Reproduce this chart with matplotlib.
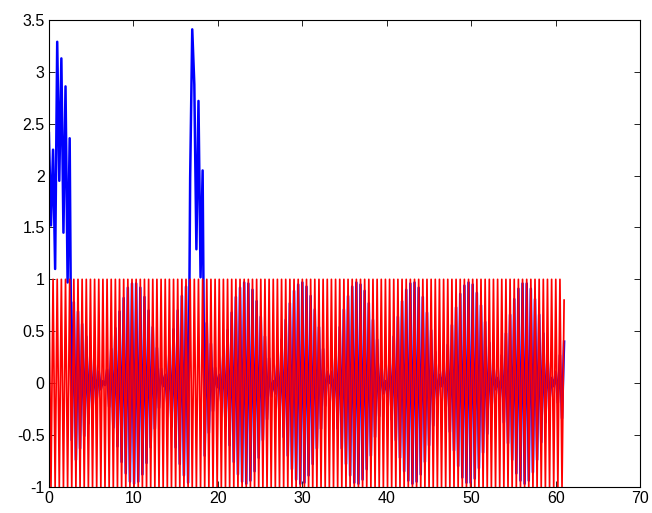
"""
Two sampled signals on one axes (MATLAB-style figure)
"""

import numpy as np
import matplotlib
matplotlib.use('Agg')
import matplotlib.pyplot as plt
from matplotlib.ticker import FormatStrFormatter

# sample grid
t_step = 0.2459
n_samples = 249

# red signal: full +1/-1 swings, last sample stops short
red = [
    1, -1, 1, -1, 1, -1, 1, -1, 1, -1, 1, -1, 1, -1, 1, -1, 1, -1, 1, -1,
    1, -1, 1, -1, 1, -1, 1, -1, 1, -1, 1, -1, 1, -1, 1, -1, 1, -1, 1, -1,
    1, -1, 1, -1, 1, -1, 1, -1, 1, -1, 1, -1, 1, -1, 1, -1, 1, -1, 1, -1,
    1, -1, 1, -1, 1, -1, 1, -1, 1, -1, 1, -1, 1, -1, 1, -1, 1, -1, 1, -1,
    1, -1, 1, -1, 1, -1, 1, -1, 1, -1, 1, -1, 1, -1, 1, -1, 1, -1, 1, -1,
    1, -1, 1, -1, 1, -1, 1, -1, 1, -1, 1, -1, 1, -1, 1, -1, 1, -1, 1, -1,
    1, -1, 1, -1, 1, -1, 1, -1, 1, -1, 1, -1, 1, -1, 1, -1, 1, -1, 1, -1,
    1, -1, 1, -1, 1, -1, 1, -1, 1, -1, 1, -1, 1, -1, 1, -1, 1, -1, 1, -1,
    1, -1, 1, -1, 1, -1, 1, -1, 1, -1, 1, -1, 1, -1, 1, -1, 1, -1, 1, -1,
    1, -1, 1, -1, 1, -1, 1, -1, 1, -1, 1, -1, 1, -1, 1, -1, 1, -1, 1, -1,
    1, -1, 1, -1, 1, -1, 1, -1, 1, -1, 1, -1, 1, -1, 1, -1, 1, -1, 1, -1,
    1, -1, 1, -1, 1, -1, 1, -1, 1, -1, 1, -1, 1, -1, 1, -1, 1, -1, 1, -1,
    1, -1, 1, -1, 1, -1, 1, -1, 0.8,
]

# blue signal, piece by piece (inside the red band it swings with the red)
blue_burst_1 = [2.41, 1.52, 2.25, 1.10, 3.29, 1.95, 3.13, 1.45, 2.86, 0.97, 2.36, -0.55]
blue_fade_1 = [0.78, -0.74, 0.69, -0.63, 0.57, -0.51, 0.45, -0.39, 0.33, -0.27,
               0.21, -0.16, 0.11, -0.06, 0.02]
blue_lobe_1 = [-0.02, 0.13, -0.23, 0.33, -0.43, 0.53, -0.61, 0.69, -0.76, 0.82,
               -0.87, 0.92, -0.95, 0.96, -0.97, 0.96, -0.95, 0.92, -0.88, 0.83,
               -0.77, 0.70, -0.62, 0.54, -0.44, 0.34, -0.24, 0.14, -0.03]
blue_rise_2 = [0.08, -0.20, 0.31, -0.42, 0.52, -0.62, 0.70, -0.78, 0.84, -0.89,
               0.93, -0.96]
blue_burst_2 = [1.98, 3.41, 2.88, 1.29, 2.72, 1.02, 2.05, -0.70]
blue_fade_2 = [0.58, -0.48, 0.38, -0.27, 0.15, -0.04]
blue_lobe_2 = [0.08, -0.19, 0.30, -0.41, 0.51, -0.60, 0.68, -0.76, 0.83, -0.88,
               0.92, -0.95, 0.97, -0.97, 0.96, -0.94, 0.90, -0.85, 0.79, -0.72,
               0.64, -0.55, 0.45, -0.35, 0.24, -0.13, 0.02]
blue_lobe_3 = [-0.10, 0.21, -0.32, 0.42, -0.52, 0.61, -0.70, 0.77, -0.83, 0.89,
               -0.93, 0.95, -0.97, 0.97, -0.96, 0.93, -0.89, 0.84, -0.78, 0.71,
               -0.63, 0.54, -0.44, 0.33, -0.22, 0.11, 0.0]
blue_lobe_4 = [0.11, -0.22, 0.33, -0.44, 0.54, -0.63, 0.71, -0.78, 0.84, -0.89,
               0.93, -0.96, 0.97, -0.97, 0.95, -0.93, 0.89, -0.83, 0.77, -0.70,
               0.61, -0.52, 0.42, -0.32, 0.21, -0.10]
blue_lobe_5 = [0.02, -0.13, 0.24, -0.35, 0.45, -0.55, 0.64, -0.72, 0.79, -0.85,
               0.90, -0.94, 0.96, -0.97, 0.97, -0.95, 0.92, -0.88, 0.83, -0.76,
               0.68, -0.60, 0.51, -0.41, 0.30, -0.19, 0.08]
blue_lobe_6 = [-0.03, 0.15, -0.26, 0.37, -0.47, 0.56, -0.65, 0.73, -0.80, 0.86,
               -0.91, 0.94, -0.96, 0.97, -0.96, 0.95, -0.92, 0.87, -0.82, 0.75,
               -0.67, 0.59, -0.49, 0.39, -0.29, 0.17, -0.06]
blue_lobe_7 = [0.05, -0.16, 0.27, -0.38, 0.48, -0.58, 0.66, -0.74, 0.81, -0.87,
               0.91, -0.94, 0.96, -0.97, 0.96, -0.94, 0.91, -0.86, 0.81, -0.74,
               0.66, -0.57, 0.48, -0.38, 0.27, -0.16, 0.05]
blue_tail = [-0.03, 0.11, -0.19, 0.27, -0.34, 0.40]

x_ticks = [0, 10, 20, 30, 40, 50, 60, 70]
y_ticks = [-1, -0.5, 0, 0.5, 1, 1.5, 2, 2.5, 3, 3.5]

blue = (blue_burst_1 + blue_fade_1 + blue_lobe_1 + blue_rise_2 + blue_burst_2
        + blue_fade_2 + blue_lobe_2 + blue_lobe_3 + blue_lobe_4 + blue_lobe_5
        + blue_lobe_6 + blue_lobe_7 + blue_tail)
t = np.arange(n_samples) * t_step

plt.rcParams['font.family'] = ['Liberation Sans', 'DejaVu Sans']
plt.rcParams['axes.unicode_minus'] = False

fig = plt.figure(figsize=(6.52, 5.13), dpi=100)
ax = fig.add_axes([0.075, 0.051, 0.907, 0.910])

# blue first, red drawn over it
ax.plot(t, blue, color=(0, 0, 1), lw=1.8)
ax.plot(t, red, color=(1, 0, 0), lw=1.25)

ax.set_xlim(0, 70)
ax.set_ylim(-1, 3.5)
ax.set_xticks(x_ticks)
ax.set_yticks(y_ticks)
ax.yaxis.set_major_formatter(FormatStrFormatter('%g'))
ax.tick_params(direction='in', top=True, right=True, length=4, width=0.6,
               labelsize=11.5, pad=3)
for s in ax.spines.values():
    s.set_linewidth(0.8)

fig.savefig('out.png', dpi=100)
